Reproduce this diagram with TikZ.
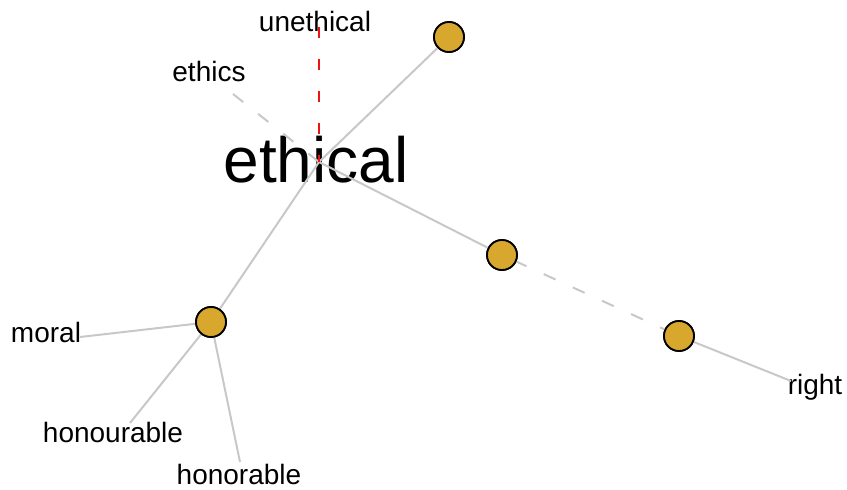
\documentclass[tikz,border=0pt]{standalone}
\usepackage{fontspec}
\setmainfont{Liberation Sans}
\definecolor{linkgray}{RGB}{200,200,200}
\definecolor{hubfill}{RGB}{216,168,46}
\definecolor{antred}{RGB}{235,20,20}
\begin{document}
\begin{tikzpicture}[x=1pt,y=-1pt,
  word/.style={font=\fontsize{28}{34}\selectfont, inner sep=0pt, anchor=base},
  headword/.style={font=\fontsize{64}{76}\selectfont, inner sep=0pt, anchor=base},
  hub/.style={circle, draw=black, line width=1.8pt, fill=hubfill, minimum size=30pt, inner sep=0pt},
  link/.style={draw=linkgray, line width=2pt},
  weak/.style={link, dash pattern=on 13pt off 19pt},
  antonym/.style={draw=antred, line width=2pt, dash pattern=on 11pt off 21pt}]
  \useasboundingbox (0,0) rectangle (847,490);

  % words
  \node[headword] (ethical) at (316,182) {ethical};
  \node[word] (unethical) at (315,31) {unethical};
  \node[word] (ethics) at (209,81) {ethics};
  \node[word] (moral) at (46,342) {moral};
  \node[word] (honourable) at (113,442) {honourable};
  \node[word] (honorable) at (239,484) {honorable};
  \node[word] (right) at (815,394) {right};

  % meeting point and free ends of the links
  \coordinate (c) at (319,162);
  \coordinate (unethical-end) at (319,27);
  \coordinate (ethics-end) at (233,94);
  \coordinate (moral-end) at (80,337);
  \coordinate (honourable-end) at (130,423);
  \coordinate (honorable-end) at (240,462);
  \coordinate (right-end) at (791,381);

  % sense hubs
  \node[hub] (h1) at (449,37) {};
  \node[hub] (h2) at (502,255) {};
  \node[hub] (h3) at (679,336) {};
  \node[hub] (h4) at (211,322) {};

  % links
  \draw[link] (c) -- (h1);
  \draw[link] (c) -- (h2);
  \draw[link] (c) -- (h4);
  \draw[weak, dash phase=2pt] (h2) -- (h3);
  \draw[link] (h3) -- (right-end);
  \draw[link] (h4) -- (moral-end);
  \draw[link] (h4) -- (honourable-end);
  \draw[link] (h4) -- (honorable-end);
  \draw[weak] (ethics-end) -- (c);
  \draw[antonym] (unethical-end) -- (c);

  % hubs drawn again over the links
  \foreach \h in {h1,h2,h3,h4}
    \node[hub] at (\h) {};
\end{tikzpicture}
\end{document}
